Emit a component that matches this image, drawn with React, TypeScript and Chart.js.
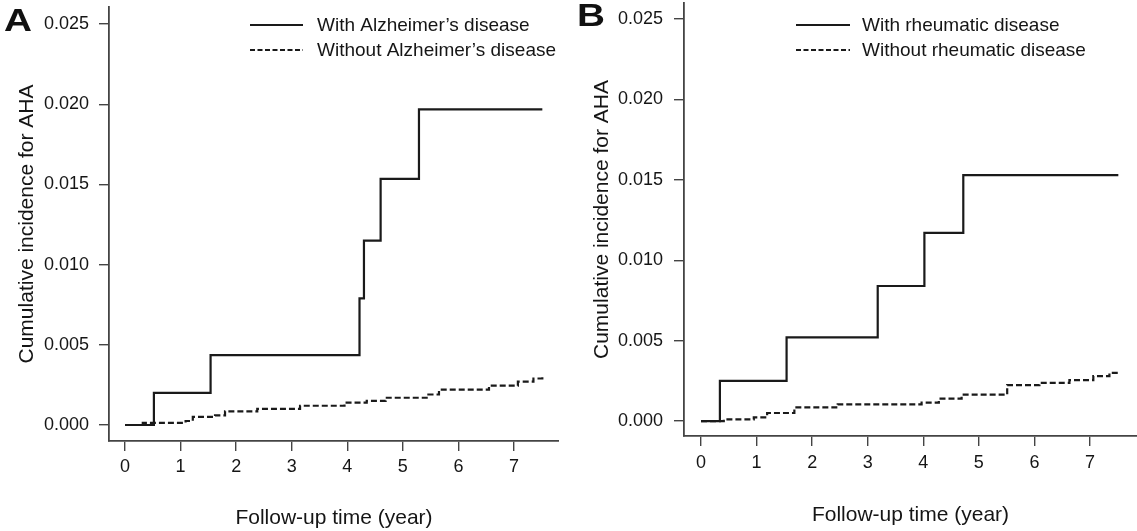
import React, { useEffect, useRef } from "react";
import { Chart, registerables } from "chart.js";

Chart.register(...registerables);

// ---------- data ----------
const xTickValues = [0, 1, 2, 3, 4, 5, 6, 7];
const yTickValues = [0, 0.005, 0.01, 0.015, 0.02, 0.025];

const aWithTimes = [0, 0.52, 1.54, 4.22, 4.3, 4.6, 5.29, 7.51];
const aWithValues = [0, 0.002, 0.00436, 0.0079, 0.0115, 0.01534, 0.01968, 0.01968];
const aWithoutTimes = [0, 0.32, 1.09, 1.22, 1.62, 1.8, 2.38, 3.15, 3.95, 4.35, 4.69, 5.46, 5.65, 6.55, 7.07, 7.35, 7.51];
const aWithoutValues = [0, 0.00013, 0.00025, 0.0005, 0.0006, 0.00085, 0.001, 0.0012, 0.0014, 0.0015, 0.0017, 0.0019, 0.0022, 0.00245, 0.0027, 0.0029, 0.0031];

const bWithTimes = [0, 0.34, 1.54, 3.18, 4.02, 4.72, 7.51];
const bWithValues = [0, 0.0025, 0.0052, 0.0084, 0.0117, 0.0153, 0.0153];
const bWithoutTimes = [0, 0.41, 0.95, 1.19, 1.68, 2.46, 3.97, 4.28, 4.69, 5.51, 6.09, 6.63, 7.06, 7.35, 7.51];
const bWithoutValues = [0, 0.0001, 0.00023, 0.0005, 0.00085, 0.00104, 0.00114, 0.0014, 0.00164, 0.00224, 0.00238, 0.00255, 0.0028, 0.003, 0.003];

const aLabels = ["With Alzheimer\u2019s disease", "Without Alzheimer\u2019s disease"];
const bLabels = ["With rheumatic disease", "Without rheumatic disease"];

const xTitle = "Follow-up time (year)";
const yTitle = "Cumulative incidence for AHA";

const FONT = "'Liberation Sans', Arial, Helvetica, sans-serif";
const INK = "#151515";
const AXIS = "#444";

const toPoints = (t: number[], v: number[]) => t.map((x, i) => ({ x, y: v[i] }));

const legendPlugin = {
  id: "kmLegend",
  afterDraw(chart: any, _args: any, opts: any) {
    const ctx = chart.ctx;
    ctx.save();
    chart.data.datasets.forEach((ds: any, i: number) => {
      const y = opts.ys[i];
      ctx.beginPath();
      ctx.strokeStyle = ds.borderColor;
      ctx.lineWidth = 2;
      ctx.setLineDash(i === 0 ? [] : [5, 2.5]);
      ctx.moveTo(opts.x0, y);
      ctx.lineTo(opts.x1, y);
      ctx.stroke();
      ctx.setLineDash([]);
      ctx.fillStyle = INK;
      ctx.font = `19px ${FONT}`;
      ctx.textAlign = "left";
      ctx.textBaseline = "middle";
      ctx.fillText(ds.label, opts.xText, y + 1);
    });
    ctx.restore();
  },
};

type PanelProps = {
  left: number;
  width: number;
  withTimes: number[];
  withValues: number[];
  withoutTimes: number[];
  withoutValues: number[];
  labels: string[];
  plotLeft: number;
  top: number;
  bottomH: number;
  xMin: number;
  xMax: number;
  yMin: number;
  yMax: number;
  yTitlePad: number;
  yTickPad: number;
  xTickPad: number;
  xTitlePad: number;
  legend: { x0: number; x1: number; xText: number; ys: number[] };
};

function Panel(p: PanelProps) {
  const ref = useRef<HTMLCanvasElement | null>(null);
  useEffect(() => {
    if (!ref.current) return;
    const chart = new Chart(ref.current, {
      type: "line",
      data: {
        datasets: [
          {
            label: p.labels[0],
            data: toPoints(p.withTimes, p.withValues),
            borderColor: "#1a1a1a",
            borderWidth: 2.2,
            stepped: "before",
            pointRadius: 0,
            fill: false,
          },
          {
            label: p.labels[1],
            data: toPoints(p.withoutTimes, p.withoutValues),
            borderColor: "#1a1a1a",
            borderWidth: 2.2,
            borderDash: [6, 3],
            stepped: "before",
            pointRadius: 0,
            fill: false,
          },
        ],
      },
      options: {
        animation: false,
        responsive: false,
        maintainAspectRatio: false,
        events: [],
        layout: { padding: { top: p.top, left: 0, right: 0, bottom: 0 } },
        plugins: {
          legend: { display: false },
          tooltip: { enabled: false },
          kmLegend: p.legend,
        } as any,
        scales: {
          x: {
            type: "linear",
            min: p.xMin,
            max: p.xMax,
            afterBuildTicks: (s: any) => {
              s.ticks = xTickValues.map((v) => ({ value: v }));
            },
            afterFit: (s: any) => {
              s.height = p.bottomH;
              s.paddingLeft = 0;
              s.paddingRight = 0;
            },
            grid: {
              drawOnChartArea: false,
              drawTicks: true,
              tickLength: 10,
              color: AXIS,
              lineWidth: 1.4,
            },
            border: { display: true, color: AXIS, width: 1.8 },
            ticks: {
              color: INK,
              font: { family: FONT, size: 18 },
              padding: p.xTickPad,
              maxRotation: 0,
              callback: (v: any) => String(v),
            },
            title: {
              display: true,
              text: xTitle,
              color: INK,
              font: { family: FONT, size: 21 },
              padding: { top: 0, bottom: p.xTitlePad },
            },
          },
          y: {
            type: "linear",
            min: p.yMin,
            max: p.yMax,
            afterBuildTicks: (s: any) => {
              s.ticks = yTickValues.map((v) => ({ value: v }));
            },
            afterFit: (s: any) => {
              s.width = p.plotLeft;
              s.paddingTop = 0;
              s.paddingBottom = 0;
            },
            grid: {
              drawOnChartArea: false,
              drawTicks: true,
              tickLength: 10,
              color: AXIS,
              lineWidth: 1.4,
            },
            border: { display: true, color: AXIS, width: 1.8 },
            ticks: {
              color: INK,
              font: { family: FONT, size: 18 },
              padding: p.yTickPad,
              callback: (v: any) => Number(v).toFixed(3),
            },
            title: {
              display: true,
              text: yTitle,
              color: INK,
              font: { family: FONT, size: 21 },
              padding: { top: p.yTitlePad, bottom: 0 },
            },
          },
        },
      },
      plugins: [legendPlugin],
    } as any);
    return () => chart.destroy();
  }, []);
  return (
    <canvas
      ref={ref}
      width={p.width}
      height={531}
      style={{ position: "absolute", left: p.left, top: 0, width: p.width, height: 531 }}
    />
  );
}

const letterStyle = (left: number, top: number): React.CSSProperties => ({
  position: "absolute",
  left,
  top,
  font: `bold 31px ${FONT}`,
  lineHeight: "30px",
  color: "#111",
  transform: "scaleX(1.25)",
  transformOrigin: "left top",
});

export default function App() {
  return (
    <div
      style={{
        position: "fixed",
        left: 0,
        top: 0,
        width: 1137,
        height: 531,
        background: "#fff",
        overflow: "hidden",
      }}
    >
      <Panel
        left={0}
        width={559}
        withTimes={aWithTimes}
        withValues={aWithValues}
        withoutTimes={aWithoutTimes}
        withoutValues={aWithoutValues}
        labels={aLabels}
        plotLeft={109}
        top={7}
        bottomH={90}
        xMin={-0.288}
        xMax={7.81}
        yMin={-0.000998}
        yMax={0.02606}
        yTitlePad={15}
        yTickPad={10}
        xTickPad={5}
        xTitlePad={0}
        legend={{ x0: 250, x1: 303, xText: 317, ys: [25, 50] }}
      />
      <Panel
        left={565}
        width={572}
        withTimes={bWithTimes}
        withValues={bWithValues}
        withoutTimes={bWithoutTimes}
        withoutValues={bWithoutValues}
        labels={bLabels}
        plotLeft={119}
        top={3}
        bottomH={95}
        xMin={-0.306}
        xMax={7.846}
        yMin={-0.00093}
        yMax={0.026}
        yTitlePad={25}
        yTickPad={11}
        xTickPad={6}
        xTitlePad={3}
        legend={{ x0: 231, x1: 285, xText: 297, ys: [25, 50] }}
      />
      <div style={letterStyle(4, 6)}>A</div>
      <div style={letterStyle(577, 1)}>B</div>
    </div>
  );
}
